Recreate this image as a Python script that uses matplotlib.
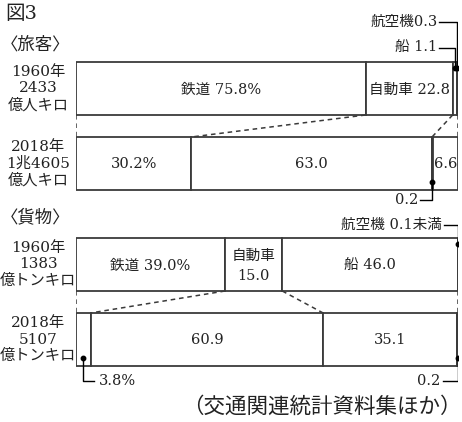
import numpy as np
import matplotlib.pyplot as plt

plt.rcParams['font.family'] = ['DejaVu Serif', 'Noto Sans CJK JP']

# shares in %, order: 鉄道, 自動車, 船, 航空機
passenger_1960 = [75.8, 22.8, 1.1, 0.3]
passenger_2018 = [30.2, 63.0, 0.2, 6.6]
freight_1960 = [39.0, 15.0, 46.0, 0.05]   # 航空機 0.1未満
freight_2018 = [3.8, 60.9, 35.1, 0.2]

row_labels = [['1960年', '2433', '億人キロ'], ['2018年', '1兆4605', '億人キロ'],
              ['1960年', '1383', '億トンキロ'], ['2018年', '5107', '億トンキロ']]
seg_labels = [
    ['鉄道 75.8%', '自動車 22.8', None, None],
    ['30.2%', '63.0', None, '6.6'],
    ['鉄道 39.0%', '自動車\n15.0', '船 46.0', None],
    [None, '60.9', '35.1', None],
]
# (row, segment, text, text y in px, horizontal line length px, side)
callouts = [
    (0, 3, '航空機0.3', 22, 18, 'left'),
    (0, 2, '船 1.1', 48, 16, 'left'),
    (1, 2, '0.2', 200, 12, 'left'),
    (2, 3, '航空機 0.1未満', 225, 14, 'left'),
    (3, 3, '0.2', 381, 15, 'left'),
    (3, 0, '3.8%', 381, 11, 'right'),
]

W, H = 462, 422
fig = plt.figure(figsize=(W / 100, H / 100), dpi=100)
ax = fig.add_axes([76 / W, 0, 382 / W, 1])
ax.set_xlim(0, 100)
ax.set_ylim(H, 0)
ax.axis('off')
PX = 100 / 382

rows = [passenger_1960, passenger_2018, freight_1960, freight_2018]
row_y = [88.5, 163.5, 264.5, 339.5]
bar_h = 53
edge = '#3a3a3a'
txt = '#222222'
fs = 10.5


def lines_text(x, y, lines, step, size=fs):
    n = len(lines)
    for i, s in enumerate(lines):
        ax.text(x, y + (i - (n - 1) / 2) * step, s, ha='center', va='center',
                fontsize=size, color=txt)


lefts = []
for vals, y, labels in zip(rows, row_y, seg_labels):
    left = np.concatenate([[0], np.cumsum(vals)[:-1]])
    lefts.append(left)
    colors = ['#222222' if v < 0.5 else 'white' for v in vals]
    ax.barh(y, vals, left=left, height=bar_h, color=colors,
            edgecolor=edge, linewidth=1.3)
    for l, v, lab in zip(left, vals, labels):
        if lab:
            lines_text(l + v / 2, y + 1, lab.split('\n'), 20)

# dashed connectors between 1960 and 2018 bars
for top, bot in [(0, 1), (2, 3)]:
    a = [0, rows[top][0], rows[top][0] + rows[top][1], 100]
    b = [0, rows[bot][0], rows[bot][0] + rows[bot][1], 100]
    for xa, xb in zip(a, b):
        ax.plot([xa, xb], [row_y[top] + bar_h / 2, row_y[bot] - bar_h / 2],
                color=edge, lw=1.1, ls=(0, (3, 2.5)))

# callouts
for r, s, label, ty, ln, side in callouts:
    x = lefts[r][s] + rows[r][s] / 2
    x = min(x, 99.9)
    yd = row_y[r] - bar_h / 2 + 6 if ty < row_y[r] else row_y[r] + bar_h / 2 - 8
    ax.plot([x], [yd], 'o', color='black', ms=3.2)
    if side == 'left':
        xe = x - ln * PX
        ax.plot([x, x, xe], [yd, ty, ty], color='black', lw=1.0)
        ax.text(xe - 2 * PX, ty, label, ha='right', va='center',
                fontsize=fs, color=txt)
    else:
        xe = x + ln * PX
        ax.plot([x, x, xe], [yd, ty, ty], color='black', lw=1.0)
        ax.text(xe + 5 * PX, ty, label, ha='left', va='center',
                fontsize=fs, color=txt)

for lab, y in zip(row_labels, row_y):
    lines_text((38 - 76) * PX, y, lab, 16.5, size=11)

fig.text(5 / W, 1 - 14 / H, '図3', ha='left', va='center', fontsize=14, color=txt)
fig.text(1 / W, 1 - 45 / H, '〈旅客〉', ha='left', va='center', fontsize=12.5, color=txt)
fig.text(1 / W, 1 - 218 / H, '〈貨物〉', ha='left', va='center', fontsize=12.5, color=txt)
fig.text(322 / W, 1 - 407 / H, '（交通関連統計資料集ほか）', ha='center', va='center',
         fontsize=15.5, color=txt)

fig.savefig('out.png', dpi=100)
